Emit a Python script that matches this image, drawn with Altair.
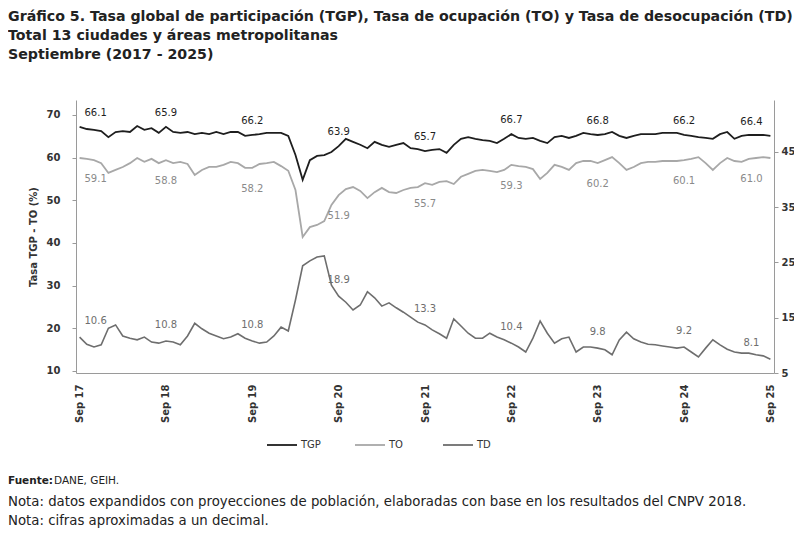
import altair as alt
import pandas as pd

# ---------------- data ----------------
meses_abrev = ["Ene", "Feb", "Mar", "Abr", "May", "Jun", "Jul", "Ago", "Sep", "Oct", "Nov", "Dic"]
periodos = []
for k in range(97):
    m = (8 + k) % 12
    a = 2017 + (8 + k) // 12
    periodos.append(f"{meses_abrev[m]} {str(a)[2:]}")

etiquetas_eje = ["Sep 17", "Sep 18", "Sep 19", "Sep 20", "Sep 21", "Sep 22", "Sep 23", "Sep 24", "Sep 25"]

tgp = [67.2, 66.7, 66.5, 66.2, 64.8, 66.0, 66.2, 66.0, 67.4, 66.5, 66.9, 65.8,
       67.2, 66.0, 65.8, 66.0, 65.5, 65.8, 65.5, 66.0, 65.5, 66.0, 66.0, 65.1,
       65.3, 65.5, 65.8, 65.8, 65.8, 65.1, 60.6, 54.8, 59.4, 60.4, 60.6, 61.3,
       62.7, 64.4, 63.7, 63.0, 62.2, 63.7, 63.0, 62.5, 63.0, 63.4, 62.2, 62.0,
       61.5, 61.8, 62.0, 61.1, 63.0, 64.4, 64.8, 64.4, 64.1, 63.9, 63.4, 64.4,
       65.5, 64.6, 64.4, 64.6, 63.9, 63.4, 64.8, 65.1, 64.6, 65.1, 65.8, 65.5,
       65.3, 65.5, 66.0, 65.1, 64.6, 65.1, 65.5, 65.5, 65.5, 65.8, 65.8, 65.8,
       65.3, 65.1, 64.8, 64.6, 64.4, 65.5, 66.0, 64.4, 65.1, 65.3, 65.3, 65.3,
       65.1]

to = [59.9, 59.7, 59.4, 58.7, 56.4, 57.1, 57.8, 58.7, 59.9, 59.0, 59.7, 58.7,
      59.4, 58.7, 59.0, 58.5, 55.9, 57.1, 57.8, 57.8, 58.3, 59.0, 58.7, 57.6,
      57.6, 58.5, 58.7, 59.0, 58.0, 56.9, 52.4, 41.4, 43.7, 44.2, 45.1, 48.9,
      51.2, 52.6, 53.1, 52.2, 50.5, 51.9, 52.9, 51.9, 51.7, 52.4, 52.9, 53.1,
      54.0, 53.6, 54.3, 54.5, 53.8, 55.5, 56.2, 56.9, 57.1, 56.9, 56.6, 57.1,
      58.3, 58.0, 57.8, 57.3, 55.0, 56.4, 58.3, 57.8, 57.1, 58.7, 59.2, 59.2,
      58.7, 59.4, 60.1, 58.7, 57.1, 57.8, 58.7, 59.0, 59.0, 59.2, 59.2, 59.2,
      59.4, 59.7, 60.1, 58.7, 57.1, 58.7, 59.9, 59.2, 59.0, 59.7, 59.9, 60.1,
      59.9]

td = [11.5, 10.2, 9.7, 10.1, 13.1, 13.7, 11.7, 11.3, 11.0, 11.5, 10.6, 10.4,
      10.8, 10.6, 10.1, 11.7, 14.0, 13.0, 12.2, 11.7, 11.2, 11.5, 12.1, 11.3,
      10.8, 10.4, 10.6, 11.7, 13.3, 12.6, 18.2, 24.4, 25.3, 26.0, 26.2, 20.9,
      18.9, 17.8, 16.4, 17.3, 19.7, 18.6, 17.1, 17.7, 16.8, 16.0, 15.1, 14.2,
      13.7, 12.8, 12.1, 11.3, 14.8, 13.5, 12.2, 11.3, 11.3, 12.2, 11.5, 11.0,
      10.4, 9.7, 8.8, 11.3, 14.4, 12.2, 10.4, 11.2, 11.5, 8.8, 9.7, 9.7,
      9.5, 9.2, 8.3, 11.0, 12.4, 11.2, 10.6, 10.2, 10.1, 9.9, 9.7, 9.5,
      9.7, 8.8, 7.9, 9.5, 11.0, 10.1, 9.3, 8.8, 8.6, 8.6, 8.3, 8.1,
      7.5]

etq_tgp = ["66.1", "65.9", "66.2", "63.9", "65.7", "66.7", "66.8", "66.2", "66.4"]
etq_to = ["59.1", "58.8", "58.2", "51.9", "55.7", "59.3", "60.2", "60.1", "61.0"]
etq_td = ["10.6", "10.8", "10.8", "18.9", "13.3", "10.4", "9.8", "9.2", "8.1"]

series = ["TGP", "TO", "TD"]
colores = ["#1e1e1e", "#a8a8a8", "#6e6e6e"]

# ---------------- tables ----------------
rows = []
for nombre, vals in zip(series, [tgp, to, td]):
    for p, v in zip(periodos, vals):
        rows.append({"mes": p, "serie": nombre, "valor": v})
df = pd.DataFrame(rows)

lab_rows = []
for nombre, vals, etq in zip(series, [tgp, to, td], [etq_tgp, etq_to, etq_td]):
    for j, (lbl, t) in enumerate(zip(etiquetas_eje, etq)):
        pos = "first" if j == 0 else ("last" if j == len(etq) - 1 else "mid")
        lab_rows.append({"mes": lbl, "serie": nombre, "valor": vals[periodos.index(lbl)],
                         "texto": t, "pos": pos})
lab_df = pd.DataFrame(lab_rows)

W, H = 698, 273
FONT = "DejaVu Sans"

left_scale = alt.Scale(domain=[9.5, 73.5], nice=False, zero=False)
right_scale = alt.Scale(domain=[5, 54.4], nice=False, zero=False)
x_scale = alt.Scale(type="point", padding=0.5)
color_scale = alt.Scale(domain=series, range=colores)

x_axis = alt.Axis(values=etiquetas_eje, labelAngle=270, ticks=False, labelPadding=11,
                  title=None, grid=False)


def x_enc(axis=None):
    if axis is None:
        return alt.X("mes:N", sort=periodos, scale=x_scale)
    return alt.X("mes:N", sort=periodos, scale=x_scale, axis=axis)


# TGP and TO lines on the left axis
line_left = alt.Chart(df).transform_filter(
    alt.FieldOneOfPredicate(field="serie", oneOf=["TGP", "TO"])
).mark_line(strokeWidth=1.8).encode(
    x=x_enc(x_axis),
    y=alt.Y("valor:Q", scale=left_scale,
            axis=alt.Axis(values=[10, 20, 30, 40, 50, 60, 70], grid=False, tickSize=4,
                          labelPadding=12, title="Tasa TGP - TO (%)",
                          titleX=-43, titleY=H / 2, titleAngle=270,
                          titleAlign="center", titleBaseline="middle")),
    color=alt.Color("serie:N", scale=color_scale, sort=series,
                    legend=alt.Legend(orient="none", legendX=190, legendY=329,
                                      direction="horizontal", title=None,
                                      symbolType="stroke", symbolSize=900,
                                      symbolStrokeWidth=1.8, labelFontSize=10,
                                      labelFont=FONT, labelColor="#333333",
                                      columnPadding=30, gridAlign="all",
                                      labelOffset=3, padding=0)),
    detail="serie:N",
)

# TD line on the right axis
line_right = alt.Chart(df).transform_filter(
    alt.FieldEqualPredicate(field="serie", equal="TD")
).mark_line(strokeWidth=1.6).encode(
    x=x_enc(None),
    y=alt.Y("valor:Q", scale=right_scale,
            axis=alt.Axis(orient="right", values=[5, 15, 25, 35, 45], grid=False,
                          tickSize=4, labelPadding=3, title=None)),
    color=alt.Color("serie:N", scale=color_scale, sort=series),
)


def label_layers(nombre, scale, color, dy):
    out = []
    for pos, dx in [("first", 16), ("mid", 0), ("last", -19)]:
        out.append(
            alt.Chart(lab_df).transform_filter(
                (alt.datum.serie == nombre) & (alt.datum.pos == pos)
            ).mark_text(dx=dx, dy=dy, fontSize=10, color=color, font=FONT).encode(
                x=x_enc(None),
                y=alt.Y("valor:Q", scale=scale, axis=None),
                text="texto:N",
            )
        )
    return out


def texto(t, x, y, size=12, weight="normal", color="#222222"):
    return alt.Chart(alt.Data(values=[{}])).mark_text(
        align="left", baseline="middle", fontSize=size, fontWeight=weight,
        color=color, font=FONT
    ).encode(x=alt.value(x), y=alt.value(y), text=alt.value(t))


textos = [
    texto("Gráfico 5. Tasa global de participación (TGP), Tasa de ocupación (TO) y Tasa de desocupación (TD)",
          -68, -83, 14.2, "bold"),
    texto("Total 13 ciudades y áreas metropolitanas", -68, -64, 14.2, "bold"),
    texto("Septiembre (2017 - 2025)", -68, -45, 14.2, "bold"),
    texto("Fuente:", -68, 381, 10.5, "bold"),
    texto("DANE, GEIH.", -22, 381, 10.5),
    texto("Nota: datos expandidos con proyecciones de población, elaboradas con base en los resultados del CNPV 2018.",
          -68, 402, 13.3),
    texto("Nota: cifras aproximadas a un decimal.", -68, 421, 13.3),
]

chart = alt.layer(
    line_left,
    *label_layers("TGP", left_scale, colores[0], -14),
    *label_layers("TO", left_scale, "#8a8a8a", 21),
    line_right,
    *label_layers("TD", right_scale, colores[2], -16),
    *textos,
).resolve_scale(y="independent").properties(
    width=W, height=H,
    autosize=alt.AutoSizeParams(type="none"),
    padding={"left": 68, "top": 92, "right": 20, "bottom": 160},
    background="white",
).configure_view(
    strokeWidth=0
).configure_axis(
    labelFont=FONT, titleFont=FONT, labelFontSize=10, labelFontWeight="bold",
    labelColor="#333333", titleFontSize=10, titleFontWeight="bold", titleColor="#333333",
    domainColor="#9a9a9a", tickColor="#9a9a9a",
)

chart.save("out.html", embed_options={"renderer": "svg", "actions": False})
